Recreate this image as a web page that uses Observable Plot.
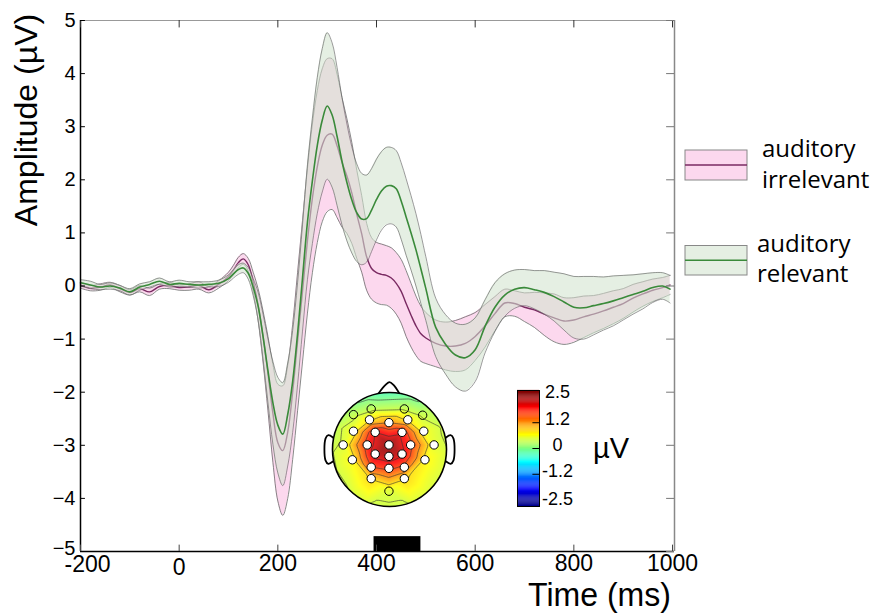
<!DOCTYPE html>
<html><head><meta charset="utf-8">
<script src="https://cdn.jsdelivr.net/npm/d3@7"></script>
<script src="https://cdn.jsdelivr.net/npm/@observablehq/plot@0.6"></script>
<style>
body{margin:0;background:#fff}
#wrap{position:relative;width:872px;height:615px;overflow:hidden;background:#fff}
#wrap svg{position:absolute}
</style></head><body><div id="wrap"></div>
<script>
// ---------------- ERP data (ms, µV) ----------------
const time = [-200,-180,-160,-140,-120,-100,-80,-60,-40,-20,0,20,40,60,80,
100,110,120,130,140,150,160,170,180,190,200,210,220,230,240,250,260,270,280,290,300,310,320,330,340,350,360,370,380,390,400,410,420,430,440,450,460,470,480,490,500,
520,540,560,580,600,620,640,660,680,700,720,740,760,780,800,820,840,860,880,900,920,940,960,980,995];

const irrMean = [0.02,-0.04,-0.02,0.02,-0.05,-0.12,-0.05,-0.11,-0.01,0.01,-0.03,-0.02,0.01,-0.07,0.03,
0.18,0.30,0.44,0.51,0.40,0.08,-0.35,-0.95,-1.65,-2.40,-2.95,-3.10,-2.75,-2.00,-1.05,-0.10,0.85,1.65,2.25,2.65,2.84,2.86,2.64,2.33,2.07,1.75,1.35,0.98,0.55,0.33,0.25,0.22,0.20,0.15,0.05,-0.10,-0.33,-0.55,-0.75,-0.90,-0.98,
-1.08,-1.13,-1.13,-1.08,-0.95,-0.75,-0.52,-0.32,-0.33,-0.40,-0.45,-0.53,-0.60,-0.66,-0.64,-0.58,-0.53,-0.47,-0.40,-0.33,-0.23,-0.15,-0.08,-0.03,0.02];

const irrSE = [0.06,0.05,0.06,0.05,0.06,0.05,0.06,0.07,0.05,0.06,0.05,0.06,0.07,0.06,0.07,
0.08,0.09,0.10,0.10,0.12,0.18,0.30,0.48,0.70,0.92,1.10,1.22,1.25,1.27,1.30,1.33,1.36,1.40,1.43,1.44,1.44,1.42,1.35,1.22,1.08,0.95,0.83,0.72,0.63,0.58,0.57,0.57,0.56,0.57,0.58,0.60,0.62,0.60,0.56,0.52,0.48,
0.44,0.45,0.48,0.50,0.45,0.40,0.32,0.26,0.24,0.27,0.33,0.40,0.45,0.44,0.42,0.39,0.35,0.33,0.31,0.28,0.26,0.23,0.21,0.19,0.18];

const relMean = [0.06,0.02,-0.02,0.00,-0.04,-0.11,-0.02,0.03,0.09,0.03,0.05,0.03,0.02,0.03,0.05,
0.14,0.23,0.31,0.34,0.24,-0.02,-0.38,-0.95,-1.60,-2.20,-2.62,-2.79,-2.42,-1.80,-0.90,0.15,1.20,1.98,2.65,3.12,3.39,3.22,2.82,2.35,1.95,1.62,1.38,1.26,1.27,1.43,1.63,1.79,1.88,1.89,1.83,1.60,1.30,1.00,0.68,0.32,-0.05,
-0.78,-1.10,-1.30,-1.35,-1.20,-0.76,-0.40,-0.17,-0.06,-0.03,-0.07,-0.12,-0.20,-0.30,-0.40,-0.41,-0.37,-0.33,-0.28,-0.22,-0.16,-0.10,-0.03,0.00,-0.06];

const relSE = [0.06,0.07,0.05,0.06,0.05,0.06,0.06,0.05,0.06,0.05,0.06,0.05,0.06,0.05,0.06,
0.07,0.08,0.09,0.09,0.11,0.16,0.26,0.42,0.60,0.78,0.90,0.97,0.97,0.96,0.96,1.00,1.08,1.18,1.28,1.35,1.38,1.36,1.30,1.20,1.10,1.00,0.92,0.86,0.82,0.78,0.76,0.74,0.73,0.72,0.72,0.72,0.72,0.70,0.68,0.65,0.60,
0.55,0.56,0.60,0.63,0.60,0.50,0.46,0.40,0.36,0.34,0.36,0.41,0.46,0.53,0.58,0.59,0.55,0.50,0.47,0.42,0.37,0.33,0.28,0.25,0.26];

const xTicks = [-200,0,200,400,600,800,1000];
const xTickLabels = ["-200","0","200","400","600","800","1000"];
const yTicks = [5,4,3,2,1,0,-1,-2,-3,-4,-5];
const yTickLabels = ["5","4","3","2","1","0","\u22121","\u22122","\u22123","\u22124","\u22125"];
const windowBar = [395, 490];           // black bar (ms)
const legendLabels = [["auditory","irrelevant"],["auditory","relevant"]];

// ---------------- topography data ----------------
const elecX = [-0.63,-0.32,0.26,0.58,-0.35,-0.01,0.32,-0.63,-0.25,0.22,0.60,-0.81,-0.39,-0.01,0.37,0.78,-0.25,-0.01,0.22,-0.65,0.62,-0.32,-0.01,0.26,-0.32,0.26,-0.01];
const elecY = [0.61,0.71,0.71,0.60,0.52,0.47,0.52,0.32,0.30,0.30,0.32,0.08,0.08,0.08,0.08,0.08,-0.08,-0.12,-0.08,-0.18,-0.18,-0.31,-0.33,-0.31,-0.51,-0.51,-0.73];
const elecV = [0.3,0.3,0.35,0.35,0.75,1.2,0.75,0.6,2.0,1.9,0.6,0.45,1.8,2.5,1.7,0.5,2.2,2.25,2.1,0.65,0.7,1.6,1.7,1.5,0.85,0.85,0.45];
const elecHollow = [1,1,1,1,0,0,0,0,0,0,0,0,0,0,0,0,0,0,0,0,0,0,0,0,0,0,1];
const rimAngle = [0,22.5,45,67.5,90,112.5,135,157.5,180,202.5,225,247.5,270,292.5,315,337.5];
const rimV = [0.35,0.3,0.15,-0.3,-0.5,-0.3,0.0,0.2,0.3,0.3,0.3,0.35,0.35,0.35,0.35,0.35];
const contourLevels = [0,0.4,0.8,1.2,1.6,2.0];
const noseX = [-0.19,-0.07,0,0.07,0.17], noseY = [0.985,1.13,1.18,1.13,0.985];
const earX = [-0.99,-1.07,-1.12,-1.12,-1.07,-0.99], earY = [0.21,0.25,0.19,-0.19,-0.25,-0.21];
const cbTicks = [2.5,1.2,0,-1.2,-2.5], cbLabels = ["2.5","1.2","0","-1.2","-2.5"];
const jetStops = [-2.5,-1.875,-0.625,0.625,1.875,2.5];
const jetColors = ["#00008f","#0000ff","#00ffff","#ffff00","#ff0000","#800000"];

// ---------------- styles ----------------
const pinkFill = "#fcd8ee", greenFill = "rgb(210,228,207)", edge = "#6a6a6a";
const magenta = "#7a2a62", green = "#3a8a3a";
const curve = "catmull-rom";
const sans = "'Liberation Sans', Arial, sans-serif";

const rows = time.map((t,i)=>({t, im: irrMean[i], is: irrSE[i], rm: relMean[i], rs: relSE[i]}));
const wrap = document.getElementById("wrap");
const lab = d=>xTickLabels[xTicks.indexOf(d)];
const ylab = d=>yTickLabels[yTicks.indexOf(d)];

const main = Plot.plot({
  width: 872, height: 615, marginLeft: 80, marginRight: 198, marginTop: 20, marginBottom: 64,
  x: {domain: [-200, 1004], axis: null},
  y: {domain: [-5, 5], axis: null},
  style: {background: "white", overflow: "visible"},
  marks: [
    Plot.areaY(rows, {x: "t", y1: d=>d.im-d.is, y2: d=>d.im+d.is, fill: pinkFill, curve}),
    Plot.line(rows, {x: "t", y: d=>d.im+d.is, stroke: edge, strokeWidth: 0.8, curve}),
    Plot.line(rows, {x: "t", y: d=>d.im-d.is, stroke: edge, strokeWidth: 0.8, curve}),
    Plot.line(rows, {x: "t", y: "im", stroke: magenta, strokeWidth: 1.4, curve}),
    Plot.areaY(rows, {x: "t", y1: d=>d.rm-d.rs, y2: d=>d.rm+d.rs, fill: greenFill, fillOpacity: 0.58, curve}),
    Plot.line(rows, {x: "t", y: d=>d.rm+d.rs, stroke: edge, strokeWidth: 0.8, strokeOpacity: 0.85, curve}),
    Plot.line(rows, {x: "t", y: d=>d.rm-d.rs, stroke: edge, strokeWidth: 0.8, strokeOpacity: 0.85, curve}),
    Plot.line(rows, {x: "t", y: "rm", stroke: green, strokeWidth: 1.6, curve}),
    // bar
    Plot.rect([windowBar], {x1: d=>d[0], x2: d=>d[1], y1: d=>-5, y2: d=>-4.72, fill: "black"}),
    // frame
    Plot.ruleY([5], {stroke: "#999", strokeWidth: 1}),
    Plot.ruleX([1004], {stroke: "#888", strokeWidth: 1.5}),
    Plot.ruleX([-200], {stroke: "black", strokeWidth: 1.5}),
    Plot.ruleY([-5], {stroke: "black", strokeWidth: 1.5}),
    // ticks
    Plot.ruleX(xTicks, {x: d=>d, y1: d=>-5, y2: d=>-4.88, stroke: "#444"}),
    Plot.ruleX(xTicks, {x: d=>d, y1: d=>5, y2: d=>4.86, stroke: "#333"}),
    Plot.ruleY(yTicks, {y: d=>d, x1: d=>-200, x2: d=>-190, stroke: "black"}),
    Plot.ruleY(yTicks, {y: d=>d, x1: d=>988, x2: d=>1004, stroke: "#777"}),
    // tick labels
    Plot.text(xTicks.filter(d=>d>0), {x: d=>d, y: d=>-5, dy: 12, text: lab, fontSize: 23, fontFamily: sans, fill: "black", ariaLabel: "xticklabels"}),
    Plot.text(xTicks.filter(d=>d<0), {x: d=>d, y: d=>-5, dy: 13, dx: 7, text: lab, fontSize: 23, fontFamily: sans, fill: "black", ariaLabel: "xticklabels"}),
    Plot.text(xTicks.filter(d=>d===0), {x: d=>d, y: d=>-5, dy: 16, text: lab, fontSize: 23, fontFamily: sans, fill: "black", ariaLabel: "xticklabels"}),
    Plot.text(yTicks.filter(d=>d>-5), {x: d=>-200, y: d=>d, dx: -5, text: ylab, textAnchor: "end", fontSize: 20, fontFamily: sans, fill: "black"}),
    Plot.text(yTicks.filter(d=>d===-5), {x: d=>-200, y: d=>d, dx: -5, dy: -3, text: ylab, textAnchor: "end", fontSize: 20, fontFamily: sans, fill: "black"})
  ]
});
main.style.left = "0px"; main.style.top = "0px";
wrap.appendChild(main);

const ms = d3.select(main);
ms.selectAll('g[aria-label="xticklabels"] text').each(function(){
  const s = this.textContent; let w = 0;
  for (const c of s) w += (c === "-" ? 7 : 10.4);
  this.setAttribute("textLength", w);
  this.setAttribute("lengthAdjust", "spacingAndGlyphs");
});
// axis titles
ms.append("text").attr("transform","translate(37,120) rotate(-90)").attr("text-anchor","middle")
  .attr("font-family", sans).attr("font-size", 32).attr("fill","black").text("Amplitude (\u00B5V)");
ms.append("text").attr("x", 671).attr("y", 606).attr("text-anchor","end")
  .attr("font-family", sans).attr("font-size", 34).attr("fill","black")
  .attr("textLength", 143).attr("lengthAdjust","spacingAndGlyphs").text("Time (ms)");
ms.append("text").attr("x", 593).attr("y", 458).attr("text-anchor","start")
  .attr("font-family", sans).attr("font-size", 29).attr("fill","black").text("\u00B5V");
// legend
const lg = [{y: 150, h: 30, fill: pinkFill, line: magenta, tx: 762, b1: 157, b2: 188},
            {y: 245.5, h: 29.5, fill: "#e5efe3", line: green, tx: 757, b1: 252, b2: 282}];
lg.forEach((L,i)=>{
  ms.append("rect").attr("x",685).attr("y",L.y).attr("width",62).attr("height",L.h)
    .attr("fill",L.fill).attr("stroke","#888").attr("stroke-width",1);
  ms.append("line").attr("x1",685).attr("x2",747).attr("y1",L.y+L.h/2).attr("y2",L.y+L.h/2)
    .attr("stroke",L.line).attr("stroke-width",1.5);
  [L.b1, L.b2].forEach((b,j)=>{
    ms.append("text").attr("x",L.tx).attr("y",b).attr("text-anchor","start")
      .attr("font-family","'Open Sans', sans-serif")
      .attr("font-size",24).attr("fill","black").text(legendLabels[i][j]);
  });
});

// ---------------- topography inset ----------------
const colorScale = {type: "linear", domain: jetStops, range: jetColors, clamp: true};
const elec = elecX.map((x,i)=>({x, y: elecY[i], v: elecV[i], hollow: elecHollow[i]}));
const rimR = 1.12;
const field = elec.map(d=>({x: d.x, y: d.y, v: d.v})).concat(
  rimAngle.map((a,i)=>({x: rimR*Math.cos(a*Math.PI/180), y: rimR*Math.sin(a*Math.PI/180), v: rimV[i]})));
const nose = noseX.map((x,i)=>({x, y: noseY[i]}));
const earL = earX.map((x,i)=>({x, y: earY[i]}));
const earR = earX.map((x,i)=>({x: -x, y: earY[i]}));

const topo = Plot.plot({
  width: 144, height: 144, margin: 0,
  x: {domain: [-1.26, 1.26], axis: null},
  y: {domain: [-1.26, 1.26], axis: null},
  color: colorScale,
  style: {background: "transparent", overflow: "visible"},
  marks: [
    Plot.line(nose, {x: "x", y: "y", stroke: "black", strokeWidth: 1.8, fill: "white", curve: "catmull-rom"}),
    Plot.line(earL, {x: "x", y: "y", stroke: "black", strokeWidth: 1.8, fill: "white", curve: "catmull-rom"}),
    Plot.line(earR, {x: "x", y: "y", stroke: "black", strokeWidth: 1.8, fill: "white", curve: "catmull-rom"}),
    Plot.raster(field, {x: "x", y: "y", fill: "v", interpolate: "barycentric", x1: -1.12, x2: 1.12, y1: -1.12, y2: 1.12, fillOpacity: 0.87}),
    Plot.contour(field, {x: "x", y: "y", value: "v", interpolate: "barycentric", x1: -1.12, x2: 1.12, y1: -1.12, y2: 1.12, thresholds: contourLevels, stroke: "#333", strokeWidth: 0.6, fill: "none"}),
    Plot.dot([{x: 0, y: 0}], {x: "x", y: "y", r: 57, stroke: "black", strokeWidth: 1.6, fill: "none"}),
    Plot.dot(elec.filter(d=>d.hollow), {x: "x", y: "y", r: 4.2, stroke: "black", strokeWidth: 1, fill: "none"}),
    Plot.dot(elec.filter(d=>!d.hollow), {x: "x", y: "y", r: 4.2, stroke: "black", strokeWidth: 1, fill: "white"})
  ]
});
topo.style.left = "317px"; topo.style.top = "377px";
wrap.appendChild(topo);
{
  const sx = topo.scale("x"), sy = topo.scale("y");
  const cx = sx.apply(0), cy = sy.apply(0), r = sx.apply(1) - cx;
  const t = d3.select(topo);
  t.insert("defs", ":first-child").append("clipPath").attr("id","headclip")
    .append("circle").attr("cx",cx).attr("cy",cy).attr("r",r);
  t.selectAll('g[aria-label="raster"], g[aria-label="contour"]').attr("clip-path","url(#headclip)");
}

// ---------------- colour bar ----------------
const stripes = d3.range(-2.7, 2.7, 0.05);
const cb = Plot.plot({
  width: 82, height: 136, marginLeft: 0, marginRight: 60, marginTop: 10, marginBottom: 10,
  x: {domain: [0, 1], axis: null},
  y: {domain: [-2.7, 2.7], axis: null},
  color: colorScale,
  style: {background: "transparent", overflow: "visible"},
  marks: [
    Plot.rect(stripes, {x1: d=>0, x2: d=>1, y1: d=>d, y2: d=>d+0.055, fill: d=>d+0.025}),
    Plot.frame({stroke: "black", strokeWidth: 1}),
    Plot.ruleY(cbTicks.filter(d=>Math.abs(d)<2), {y: d=>d, x1: d=>0.7, x2: d=>1, stroke: "black"}),
    Plot.text(cbTicks, {x: d=>1, y: d=>d, dx: 18, dy: -3, text: d=>cbLabels[cbTicks.indexOf(d)], fontSize: 18, fontFamily: sans, fill: "black"})
  ]
});
cb.style.left = "517px"; cb.style.top = "380px";
wrap.appendChild(cb);
</script></body></html>
